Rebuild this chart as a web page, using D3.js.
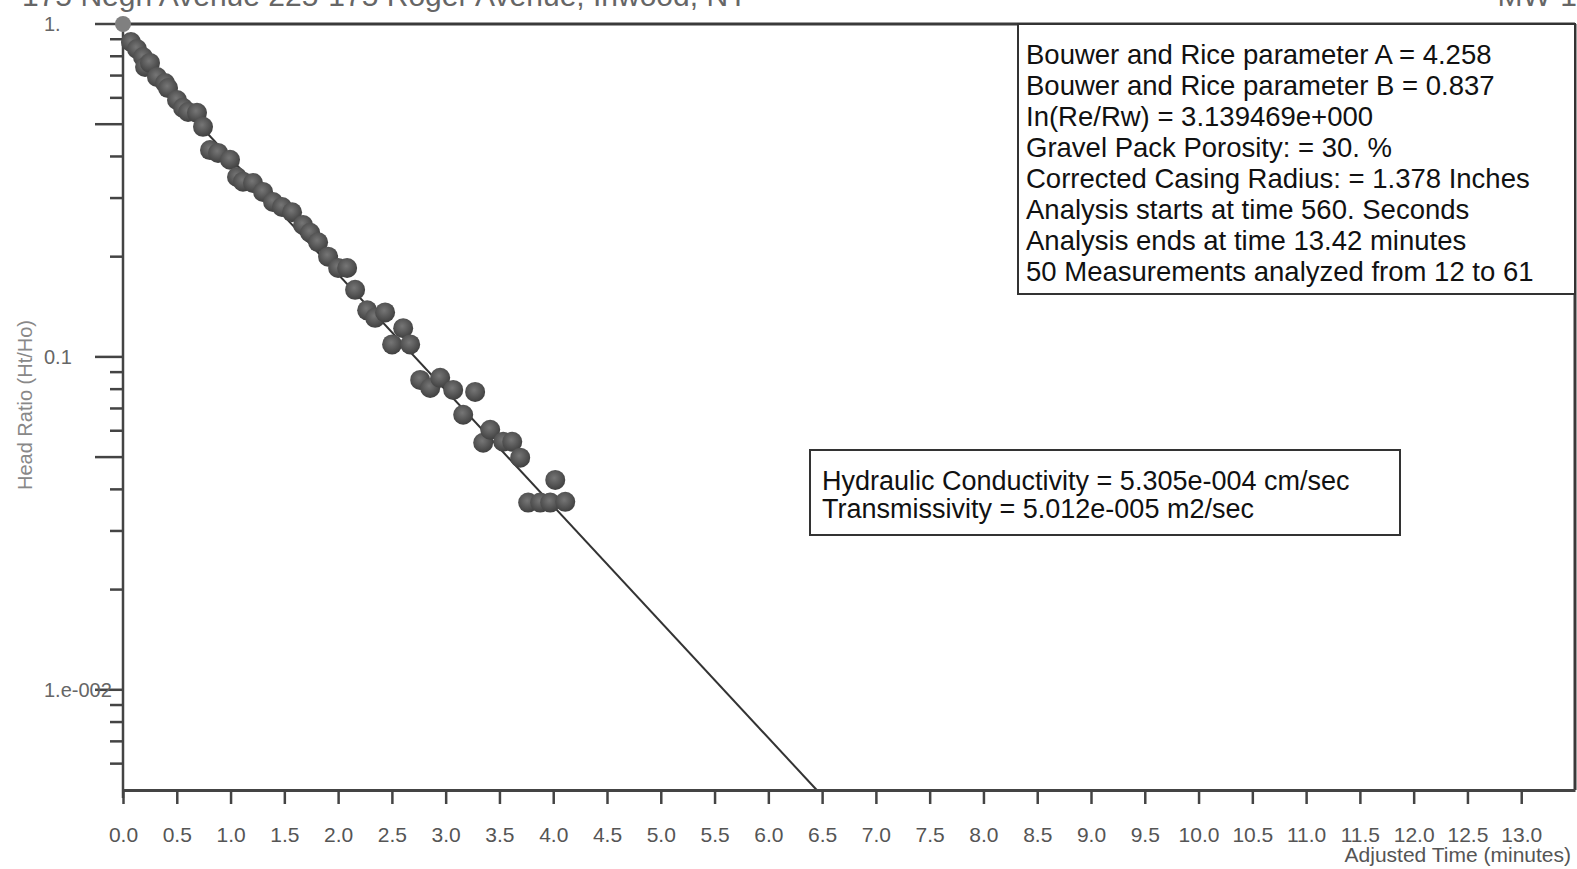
<!DOCTYPE html>
<html>
<head>
<meta charset="utf-8">
<script src="https://cdn.jsdelivr.net/npm/d3@7"></script>
<style>
  body { margin: 0; background: #fff; }
  svg { display: block; font-family: "Liberation Sans", Arial, sans-serif; }
</style>
</head>
<body>
<div id="chart"></div>
<script>
// measured recovery, time in minutes, head ratio Ht/Ho
const times = [0, 0.074, 0.130, 0.186, 0.205, 0.251, 0.316, 0.391, 0.419, 0.502,
  0.558, 0.605, 0.688, 0.744, 0.809, 0.884, 0.995, 1.060, 1.116, 1.209,
  1.302, 1.395, 1.479, 1.572, 1.674, 1.740, 1.814, 1.907, 2.000, 2.084,
  2.158, 2.270, 2.344, 2.437, 2.502, 2.605, 2.670, 2.763, 2.856, 2.949,
  3.070, 3.163, 3.274, 3.349, 3.414, 3.535, 3.619, 3.693, 3.767, 3.879,
  3.972, 4.019, 4.112];
const headRatios = [1.0, 0.883, 0.841, 0.796, 0.743, 0.764, 0.693, 0.665, 0.642, 0.591,
  0.560, 0.544, 0.541, 0.491, 0.418, 0.410, 0.391, 0.347, 0.336, 0.333,
  0.313, 0.292, 0.282, 0.272, 0.249, 0.236, 0.221, 0.200, 0.185, 0.185,
  0.159, 0.138, 0.131, 0.136, 0.109, 0.122, 0.109, 0.0853, 0.0807, 0.0865,
  0.0796, 0.0670, 0.0785, 0.0552, 0.0604, 0.0556, 0.0556, 0.0498, 0.0365, 0.0365,
  0.0365, 0.0427, 0.0367];

// Bouwer and Rice fitted line
const fitTimes = [0, 6.45];
const fitRatios = [0.88, 0.005];

const xTicks = [0, 0.5, 1, 1.5, 2, 2.5, 3, 3.5, 4, 4.5, 5, 5.5, 6, 6.5, 7, 7.5,
  8, 8.5, 9, 9.5, 10, 10.5, 11, 11.5, 12, 12.5, 13];
const yLabelTicks = [1, 0.1, 0.01];
const yLabels = ["1.", "0.1", "1.e-002"];
const yLongTicks = [1, 0.5, 0.1, 0.05, 0.01];
const yShortTicks = [0.9, 0.8, 0.7, 0.6, 0.4, 0.3, 0.2,
  0.09, 0.08, 0.07, 0.06, 0.04, 0.03, 0.02,
  0.009, 0.008, 0.007, 0.006];

const paramLines = [
  "Bouwer and Rice parameter A = 4.258",
  "Bouwer and Rice parameter B = 0.837",
  "In(Re/Rw) = 3.139469e+000",
  "Gravel Pack Porosity: = 30. %",
  "Corrected Casing Radius: = 1.378 Inches",
  "Analysis starts at time 560. Seconds",
  "Analysis ends at time 13.42 minutes",
  "50 Measurements analyzed from 12 to 61"
];
const resultLines = [
  "Hydraulic Conductivity = 5.305e-004 cm/sec",
  "Transmissivity = 5.012e-005 m2/sec"
];

const W = 1577, H = 869;
const plot = { left: 123, top: 24, right: 1575, bottom: 790 };

const svg = d3.select("#chart").append("svg")
  .attr("width", W).attr("height", H);

const x = d3.scaleLinear().domain([0, 13.5]).range([plot.left, plot.right]);
const y = d3.scaleLog().domain([0.005, 1]).range([plot.bottom, plot.top]);

// shaded markers
const grad = svg.append("defs").append("radialGradient")
  .attr("id", "dot").attr("cx", "45%").attr("cy", "40%").attr("r", "60%");
grad.append("stop").attr("offset", "0%").attr("stop-color", "#767676");
grad.append("stop").attr("offset", "100%").attr("stop-color", "#404040");

// page title, mostly cut off above the page as in the scan
svg.append("text").attr("x", 22).attr("y", 6)
  .attr("font-size", 30).attr("fill", "#666")
  .text("175 Negri Avenue 225-175 Roger Avenue, Inwood, NY");
svg.append("text").attr("x", 1577).attr("y", 6).attr("text-anchor", "end")
  .attr("font-size", 30).attr("fill", "#666").text("MW-1");

// fitted line (under the points)
const fit = fitTimes.map((t, i) => [t, fitRatios[i]]);
svg.append("path")
  .datum(fit)
  .attr("fill", "none").attr("stroke", "#333").attr("stroke-width", 2)
  .attr("d", d3.line().x(d => x(d[0])).y(d => y(d[1])));

// frame: top and right
svg.append("line").attr("x1", plot.left).attr("x2", plot.right).attr("y1", plot.top).attr("y2", plot.top)
  .attr("stroke", "#3a3a3a").attr("stroke-width", 3);
svg.append("line").attr("x1", plot.right).attr("x2", plot.right).attr("y1", plot.top).attr("y2", plot.bottom)
  .attr("stroke", "#3a3a3a").attr("stroke-width", 3);

// parameter box
const box1 = svg.append("g");
box1.append("rect").attr("x", 1018).attr("y", plot.top).attr("width", plot.right - 1018).attr("height", 294 - plot.top)
  .attr("fill", "#fff").attr("stroke", "#333").attr("stroke-width", 2);
box1.selectAll("text").data(paramLines).enter().append("text")
  .attr("x", 1026).attr("y", (d, i) => 64 + i * 31)
  .attr("font-size", 27.5).attr("fill", "#111").text(d => d);

// result box
const box2 = svg.append("g");
box2.append("rect").attr("x", 810).attr("y", 450).attr("width", 590).attr("height", 85)
  .attr("fill", "#fff").attr("stroke", "#333").attr("stroke-width", 2);
box2.selectAll("text").data(resultLines).enter().append("text")
  .attr("x", 822).attr("y", (d, i) => 490 + i * 27.5)
  .attr("font-size", 27).attr("fill", "#111").text(d => d);

// y axis
const yAxis = svg.append("g");
yAxis.append("line").attr("x1", plot.left).attr("x2", plot.left).attr("y1", plot.top).attr("y2", plot.bottom + 8)
  .attr("stroke", "#444").attr("stroke-width", 2.5);
yAxis.selectAll("line.long").data(yLongTicks).enter().append("line").attr("class", "long")
  .attr("x1", plot.left - 28).attr("x2", plot.left).attr("y1", d => y(d)).attr("y2", d => y(d))
  .attr("stroke", "#444").attr("stroke-width", 2.5);
yAxis.selectAll("line.short").data(yShortTicks).enter().append("line").attr("class", "short")
  .attr("x1", plot.left - 13).attr("x2", plot.left).attr("y1", d => y(d)).attr("y2", d => y(d))
  .attr("stroke", "#444").attr("stroke-width", 2.5);
yAxis.selectAll("text").data(yLabelTicks).enter().append("text")
  .attr("x", 44).attr("y", d => y(d)).attr("dy", "0.35em")
  .attr("font-size", 20).attr("fill", "#666")
  .text((d, i) => yLabels[i]);
svg.append("text")
  .attr("transform", `translate(32,405) rotate(-90)`)
  .attr("text-anchor", "middle").attr("font-size", 20).attr("fill", "#888")
  .text("Head Ratio (Ht/Ho)");

// x axis
const xAxis = svg.append("g").attr("transform", `translate(0,${plot.bottom})`)
  .call(d3.axisBottom(x).tickValues(xTicks).tickSize(14).tickSizeOuter(0)
    .tickFormat(d3.format(".1f")).tickPadding(23));
xAxis.select(".domain").attr("stroke", "#444").attr("stroke-width", 3);
xAxis.selectAll(".tick line").attr("stroke", "#444").attr("stroke-width", 2.5);
xAxis.selectAll(".tick text").attr("font-size", 21).attr("fill", "#555")
  .attr("font-family", "\"Liberation Sans\", Arial, sans-serif");
svg.append("text").attr("x", 1571).attr("y", 862).attr("text-anchor", "end")
  .attr("font-size", 21).attr("fill", "#555").text("Adjusted Time (minutes)");

// measured points
svg.append("g").selectAll("circle")
  .data(times.map((t, i) => [t, headRatios[i]]))
  .enter().append("circle")
  .attr("cx", d => x(d[0])).attr("cy", d => y(d[1]))
  .attr("r", (d, i) => i === 0 ? 8 : 10)
  .attr("fill", (d, i) => i === 0 ? "#808080" : "url(#dot)");
</script>
</body>
</html>
